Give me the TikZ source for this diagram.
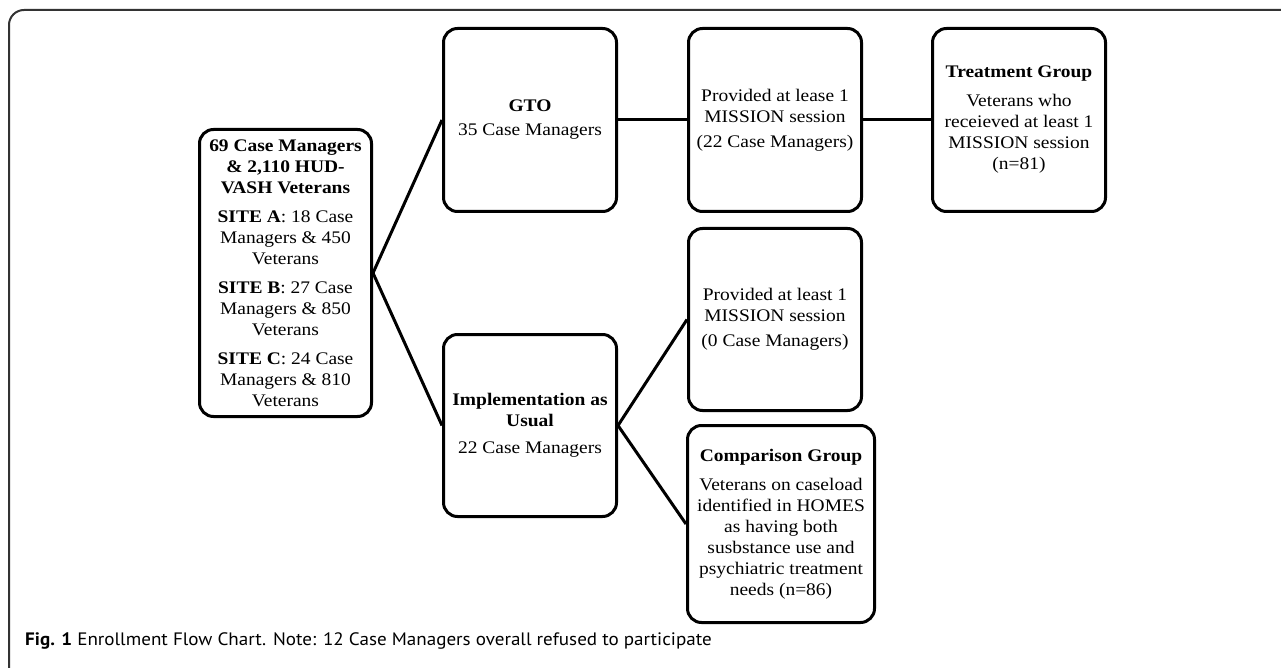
\documentclass[tikz,border=0pt]{standalone}
\usepackage{fontspec}
\setmainfont{Liberation Serif}[FakeStretch=1.1]
\newfontfamily\capfont{PT Sans}[FakeStretch=1.06]
\begin{document}
\begin{tikzpicture}[x=1pt,y=-1pt,
  box/.style={draw, line width=3pt, rounded corners=14pt, align=center, inner sep=0pt,
    font=\fontsize{17.7}{21}\selectfont},
  link/.style={line width=3pt}]
\useasboundingbox (0,0) rectangle (1281,668);
\draw[line width=2pt, black!80, rounded corners=15pt] (9,668) -- (9,10) -- (1281,10);

\node[box, minimum width=172pt, minimum height=287pt] (main) at (285.5,273)
 {\textbf{69 Case Managers}\\ \textbf{\& 2,110 HUD-}\\ \textbf{VASH Veterans}\\[8pt]
  \textbf{SITE A}: 18 Case\\ Managers \& 450\\ Veterans\\[8pt]
  \textbf{SITE B}: 27 Case\\ Managers \& 850\\ Veterans\\[8pt]
  \textbf{SITE C}: 24 Case\\ Managers \& 810\\ Veterans};

\node[box, minimum width=173pt, minimum height=183pt] (gto) at (530,120)
 {\textbf{GTO}\\[3pt] 35 Case Managers};
\node[box, minimum width=173pt, minimum height=183pt] (prov1) at (775,120)
 {Provided at lease 1\\ MISSION session\\[4pt] (22 Case Managers)};
\node[box, minimum width=173pt, minimum height=183pt] (treat) at (1019,120)
 {\textbf{Treatment Group}\\[8pt] Veterans who\\ receieved at least 1\\ MISSION session\\ (n=81)};

\node[box, minimum width=173pt, minimum height=182pt] (impl) at (530,425.5)
 {\textbf{Implementation as}\\ \textbf{Usual}\\[6pt] 22 Case Managers};
\node[box, minimum width=173pt, minimum height=182pt] (prov2) at (775,319.5)
 {Provided at least 1\\ MISSION session\\[4pt] (0 Case Managers)};
\node[box, minimum width=187pt, minimum height=197pt] (comp) at (781,524)
 {\textbf{Comparison Group}\\[8pt] Veterans on caseload\\ identified in HOMES\\ as having both\\ susbstance use and\\ psychiatric treatment\\ needs (n=86)};

\draw[link] (gto.west) -- (main.east) -- (impl.west);
\draw[link] (gto.east) -- (prov1.west);
\draw[link] (prov1.east) -- (treat.west);
\draw[link] (prov2.west) -- (impl.east) -- (comp.west);

\node[anchor=base west, inner sep=0pt, font=\capfont\fontsize{18}{20}\selectfont] (cap) at (25,645)
 {\textbf{Fig. 1} Enrollment Flow Chart. Note: 12 Case Managers overall refused to participate};
\end{tikzpicture}
\end{document}
